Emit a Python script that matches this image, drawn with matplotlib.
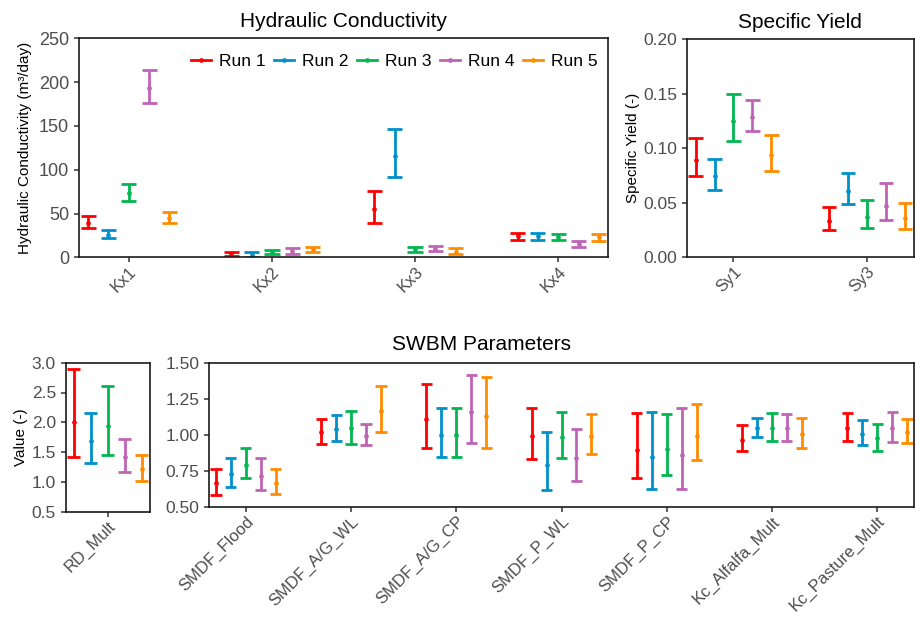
import matplotlib

matplotlib.use("Agg")
import matplotlib.pyplot as plt
import numpy as np
from matplotlib.lines import Line2D

plt.rcParams["font.family"] = ["Liberation Sans", "DejaVu Sans"]

# runs / colours
runs = ["Run 1", "Run 2", "Run 3", "Run 4", "Run 5"]
colors = ["#FF0000", "#0091CC", "#00B84F", "#BF64B5", "#FF8C00"]

# hydraulic conductivity (m3/day): rows = runs, cols = params
kx_params = ["Kx1", "Kx2", "Kx3", "Kx4"]
kx_mid = [[39.5, 3.8, 54.8, 24.0],
          [26.0, 3.0, 115.6, 24.0],
          [73.0, 6.0, 9.0, 23.0],
          [193.0, 7.0, 10.0, 15.0],
          [45.0, 9.0, 6.5, 23.0]]
kx_low = [[33.0, 1.8, 39.5, 20.1],
          [21.7, 0.7, 92.0, 20.1],
          [64.0, 3.2, 5.7, 20.1],
          [176.0, 4.3, 6.8, 11.8],
          [38.8, 6.0, 3.8, 19.0]]
kx_high = [[47.5, 5.7, 75.7, 27.4],
           [31.0, 5.7, 146.0, 27.4],
           [84.0, 8.3, 12.0, 26.3],
           [213.5, 10.3, 13.2, 18.3],
           [51.7, 11.8, 10.3, 26.3]]

# specific yield (-)
sy_params = ["Sy1", "Sy3"]
sy_mid = [[0.089, 0.0336], [0.0748, 0.0607], [0.125, 0.0372], [0.1288, 0.0473], [0.0937, 0.0357]]
sy_low = [[0.0745, 0.025], [0.0617, 0.0485], [0.1062, 0.0266], [0.1154, 0.0342], [0.0794, 0.026]]
sy_high = [[0.1096, 0.046], [0.090, 0.077], [0.1496, 0.0522], [0.1444, 0.068], [0.112, 0.050]]

# root depth multiplier
rd_params = ["RD_Mult"]
rd_mid = [[2.01], [1.686], [1.932], [1.423], [1.21]]
rd_low = [[1.417], [1.322], [1.456], [1.171], [1.02]]
rd_high = [[2.888], [2.15], [2.603], [1.725], [1.445]]

# SWBM parameters
sw_params = ["SMDF_Flood", "SMDF_A/G_WL", "SMDF_A/G_CP", "SMDF_P_WL",
             "SMDF_P_CP", "Kc_Alfalfa_Mult", "Kc_Pasture_Mult"]
sw_mid = [[0.663, 1.020, 1.106, 0.992, 0.894, 0.966, 1.045],
          [0.726, 1.038, 0.999, 0.791, 0.845, 1.045, 1.008],
          [0.791, 1.045, 0.999, 0.983, 0.903, 1.045, 0.976],
          [0.714, 0.994, 1.157, 0.840, 0.859, 1.045, 1.045],
          [0.668, 1.164, 1.129, 0.994, 0.994, 1.006, 1.017]]
sw_low = [[0.582, 0.936, 0.908, 0.833, 0.700, 0.889, 0.959],
          [0.635, 0.957, 0.845, 0.617, 0.624, 0.985, 0.927],
          [0.700, 0.936, 0.845, 0.840, 0.719, 0.957, 0.887],
          [0.614, 0.927, 0.943, 0.679, 0.624, 0.957, 0.950],
          [0.591, 1.020, 0.908, 0.866, 0.826, 0.908, 0.941]]
sw_high = [[0.763, 1.111, 1.355, 1.188, 1.148, 1.064, 1.148],
           [0.838, 1.134, 1.188, 1.020, 1.160, 1.113, 1.099],
           [0.908, 1.167, 1.183, 1.155, 1.141, 1.150, 1.071],
           [0.838, 1.071, 1.418, 1.041, 1.188, 1.143, 1.155],
           [0.759, 1.341, 1.404, 1.146, 1.211, 1.113, 1.106]]

W, H = 916, 617
DODGE = 0.142
CAP = 0.053
LW = 2.0


def add_axes(fig, x0, y0, x1, y1):
    # pixel box (top-left origin) -> figure fraction
    return fig.add_axes([x0 / W, 1 - y1 / H, (x1 - x0) / W, (y1 - y0) / H])


def draw(ax, cats, mid, low, high, yticks, fmt):
    x = np.arange(1, len(cats) + 1)
    for i, c in enumerate(colors):
        xi = x + (i - 2) * DODGE
        ax.vlines(xi, low[i], high[i], color=c, lw=LW)
        ax.hlines(low[i], xi - CAP, xi + CAP, color=c, lw=LW)
        ax.hlines(high[i], xi - CAP, xi + CAP, color=c, lw=LW)
        ax.plot(xi, mid[i], "o", ms=3.4, color=c, mec="none")
    ax.set_xlim(0.65, len(cats) + 0.35)
    ax.set_ylim(yticks[0], yticks[-1])
    ax.set_yticks(yticks)
    ax.set_yticklabels([fmt % v for v in yticks])
    ax.set_xticks(x)
    ax.set_xticklabels(cats, rotation=45, ha="right", va="top", rotation_mode="anchor")
    ax.tick_params(axis="both", colors="#333333", labelcolor="#4D4D4D",
                   labelsize=12.5, length=3.5, width=1.1)
    ax.tick_params(axis="x", pad=1.5, labelsize=12)
    for s in ax.spines.values():
        s.set_color("#1A1A1A")
        s.set_linewidth(1.2)


fig = plt.figure(figsize=(W / 100, H / 100), dpi=100)

ax1 = add_axes(fig, 78.7, 38.3, 608.3, 257.3)
draw(ax1, kx_params, kx_mid, kx_low, kx_high, [0, 50, 100, 150, 200, 250], "%d")
ax1.tick_params(axis="y", labelsize=13)
ax1.set_title("Hydraulic Conductivity", fontsize=15, pad=8)
ax1.set_ylabel("Hydraulic Conductivity (m³/day)", fontsize=11)
ax1.yaxis.set_label_coords(-0.088, 0.5)
handles = [Line2D([], [], color=c, lw=LW, marker="o", ms=3.4, mec="none") for c in colors]
ax1.legend(handles, runs, ncol=5, frameon=False, fontsize=12.5, loc="center right",
           bbox_to_anchor=(0.98, 0.896), borderaxespad=0, borderpad=0,
           handlelength=1.15, handletextpad=0.45, columnspacing=0.5)

ax2 = add_axes(fig, 686.7, 39.0, 914.0, 257.3)
draw(ax2, sy_params, sy_mid, sy_low, sy_high, [0.0, 0.05, 0.10, 0.15, 0.20], "%.2f")
ax2.set_title("Specific Yield", fontsize=15, pad=8)
ax2.set_ylabel("Specific Yield (-)", fontsize=11)
ax2.yaxis.set_label_coords(-0.205, 0.5)

ax3 = add_axes(fig, 65.7, 362.7, 149.7, 511.7)
draw(ax3, rd_params, rd_mid, rd_low, rd_high, [0.5, 1.0, 1.5, 2.0, 2.5, 3.0], "%.1f")
ax3.set_ylabel("Value (-)", fontsize=11)
ax3.yaxis.set_label_coords(-0.45, 0.5)

ax4 = add_axes(fig, 209.0, 362.7, 914.0, 506.7)
draw(ax4, sw_params, sw_mid, sw_low, sw_high, [0.5, 0.75, 1.0, 1.25, 1.5], "%.2f")
fig.text(482 / W, 1 - 350 / H, "SWBM Parameters", fontsize=15, ha="center", va="baseline")

fig.savefig("out.png", dpi=100)
